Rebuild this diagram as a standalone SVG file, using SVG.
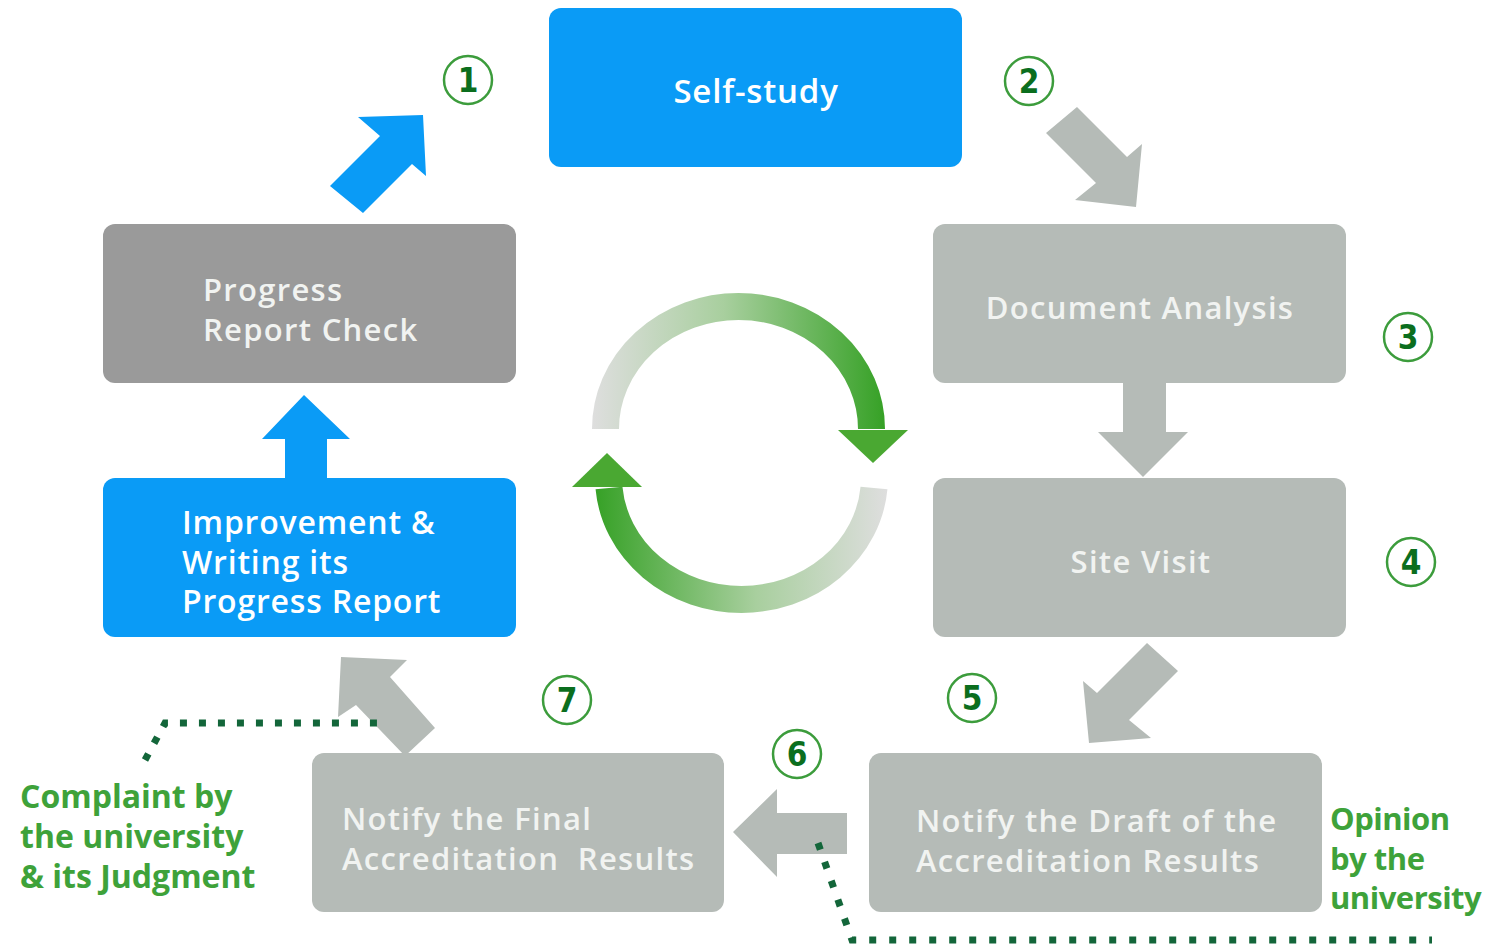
<svg xmlns="http://www.w3.org/2000/svg" width="1486" height="948" viewBox="0 0 1486 948">
<style>
.blue{fill:#0a9bf6}
.grey{fill:#b5bbb7}
.dark{fill:#9a9a9a}
.t{font-family:"Open Sans","Noto Sans","DejaVu Sans",sans-serif;font-size:32px;font-weight:600;fill:#ffffff;letter-spacing:0.8px}
.tg{font-family:"Open Sans","Noto Sans","DejaVu Sans",sans-serif;font-size:31px;font-weight:600;fill:#f1f3f1;letter-spacing:1.3px}
.lab{font-family:"Open Sans","Noto Sans","DejaVu Sans",sans-serif;font-size:32px;font-weight:700;fill:#3ea23a}
.num circle{fill:#fff;stroke:#3c9c3c;stroke-width:2.5}
.num text{font-family:"DejaVu Sans Condensed","DejaVu Sans",sans-serif;font-weight:bold;font-size:33px;fill:#0b6e1e;text-anchor:middle}
.dots{fill:none;stroke:#13663a;stroke-width:7}
</style>
<defs>
<linearGradient id="gTop" gradientUnits="userSpaceOnUse" x1="592" y1="0" x2="885" y2="0">
<stop offset="0" stop-color="#dedede"/>
<stop offset="0.45" stop-color="#a8cf9e"/>
<stop offset="1" stop-color="#36a126"/>
</linearGradient>
<linearGradient id="gBot" gradientUnits="userSpaceOnUse" x1="595" y1="0" x2="887" y2="0">
<stop offset="0" stop-color="#36a126"/>
<stop offset="0.55" stop-color="#a8cf9e"/>
<stop offset="1" stop-color="#dedede"/>
</linearGradient>
</defs>
<rect width="1486" height="948" fill="#ffffff"/>

<g id="connectors">
<polygon class="blue" points="330,186 380,136 358,117 423,115 426,176 412,164 363,213"/>
<polygon class="grey" points="1046,133 1077,107 1127,157 1142,144 1136,207 1075,200 1096,183"/>
<polygon class="grey" points="1123,380 1166,380 1166,432 1188,432 1143,477 1098,432 1123,432"/>
<polygon class="grey" points="1147,643 1178,671 1129,720 1151,738 1089,743 1083,681 1097,693"/>
<polygon class="grey" points="733,832 777,789 777,813 847,813 847,854 777,854 777,877"/>
<polygon class="grey" points="341,657 407,660 390,677 435,728 405,756 356,705 338,717"/>
<polygon class="blue" points="304,395 350,439 327,439 327,480 285,480 285,439 262,439"/>
<path class="dots" d="M145,760 L165,723 L387,723" stroke-dasharray="7 12"/>
<path class="dots" d="M818,843 L852,940 L1432,940" stroke-dasharray="7 13"/>
</g>

<g id="cycle">
<path d="M605.5,429 A133,122.5 0 0 1 871.5,429" fill="none" stroke="url(#gTop)" stroke-width="27"/>
<polygon points="838,430 908,430 873,463" fill="#4aa832"/>
<path d="M874,488 A133,122 0 0 1 609,488" fill="none" stroke="url(#gBot)" stroke-width="27"/>
<polygon points="572,487 642,487 607,453" fill="#4aa832"/>
</g>

<g id="self-study">
<rect class="blue" x="549" y="8" width="413" height="159" rx="12"/>
<text class="t" x="756" y="103" text-anchor="middle" style="font-size:33px">Self-study</text>
</g>
<g id="document-analysis">
<rect class="grey" x="933" y="224" width="413" height="159" rx="12"/>
<text class="tg" x="1140" y="319" text-anchor="middle">Document Analysis</text>
</g>
<g id="site-visit">
<rect class="grey" x="933" y="478" width="413" height="159" rx="12"/>
<text class="tg" x="1141" y="573" text-anchor="middle">Site Visit</text>
</g>
<g id="notify-draft">
<rect class="grey" x="869" y="753" width="453" height="159" rx="12"/>
<text class="tg" x="916" y="832">Notify the Draft of the</text>
<text class="tg" x="916" y="872">Accreditation Results</text>
</g>
<g id="notify-final">
<rect class="grey" x="312" y="753" width="412" height="159" rx="12"/>
<text class="tg" x="342" y="830">Notify the Final</text>
<text class="tg" x="342" y="870" xml:space="preserve">Accreditation  Results</text>
</g>
<g id="improvement">
<rect class="blue" x="103" y="478" width="413" height="159" rx="12"/>
<text class="t" x="182" y="534">Improvement &amp;</text>
<text class="t" x="182" y="574">Writing its</text>
<text class="t" x="182" y="613">Progress Report</text>
</g>
<g id="progress-report-check">
<rect class="dark" x="103" y="224" width="413" height="159" rx="12"/>
<text class="tg" x="203" y="301">Progress</text>
<text class="tg" x="203" y="341">Report Check</text>
</g>

<g id="numbers">
<g class="num"><circle cx="468" cy="80" r="24"/><text x="468" y="92">1</text></g>
<g class="num"><circle cx="1029" cy="81" r="24"/><text x="1029" y="93">2</text></g>
<g class="num"><circle cx="1408" cy="337" r="24"/><text x="1408" y="349">3</text></g>
<g class="num"><circle cx="1411" cy="562" r="24"/><text x="1411" y="574">4</text></g>
<g class="num"><circle cx="972" cy="698" r="24"/><text x="972" y="710">5</text></g>
<g class="num"><circle cx="797" cy="754" r="24"/><text x="797" y="766">6</text></g>
<g class="num"><circle cx="567" cy="700" r="24"/><text x="567" y="712">7</text></g>
</g>

<g id="label-complaint">
<text class="lab" x="20" y="808">Complaint by</text>
<text class="lab" x="20" y="848">the university</text>
<text class="lab" x="20" y="888">&amp; its Judgment</text>
</g>
<g id="label-opinion">
<text class="lab" x="1330" y="830" style="font-size:31px;letter-spacing:-0.5px">Opinion</text>
<text class="lab" x="1330" y="870" style="font-size:31px;letter-spacing:-0.5px">by the</text>
<text class="lab" x="1330" y="909" style="font-size:31px;letter-spacing:-0.5px">university</text>
</g>
</svg>
